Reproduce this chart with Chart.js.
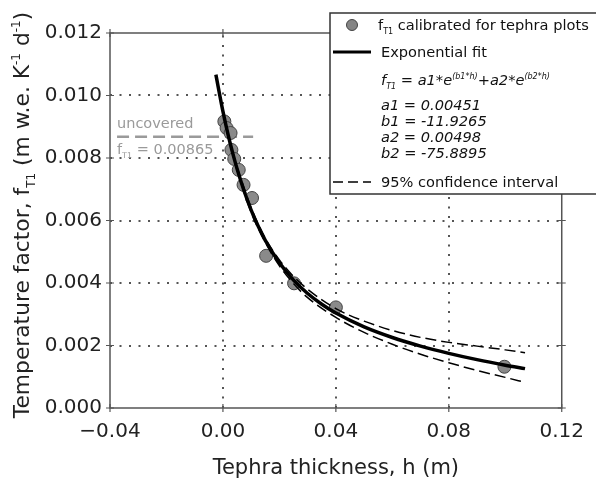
<!DOCTYPE html>
<html><head><meta charset="utf-8">
<script src="https://cdn.jsdelivr.net/npm/chart.js@4"></script>
<style>html,body{margin:0;padding:0;background:#fff}</style>
</head><body>
<canvas id="c" width="596" height="481" style="display:block;width:596px;height:481px"></canvas>
<script>
// Calibrated tephra plots
const plotH = [0.0005, 0.0013, 0.0027, 0.0030, 0.0040, 0.0056, 0.0073, 0.0103, 0.0153, 0.0252, 0.0400, 0.0997];
const plotF = [0.00917, 0.00896, 0.00880, 0.00826, 0.00797, 0.00762, 0.00714, 0.00672, 0.00487, 0.00399, 0.00322, 0.00132];
// Exponential fit
const fitH = [-0.0025, 0, 0.00125, 0.0025, 0.00375, 0.005, 0.0075, 0.01, 0.0125, 0.015, 0.02, 0.025, 0.03, 0.035, 0.04, 0.05, 0.06, 0.07, 0.08, 0.09, 0.1, 0.107];
const fitF = [0.010667, 0.00949, 0.008972, 0.008496, 0.008060, 0.007657, 0.006943, 0.006334, 0.005814, 0.005366, 0.004645, 0.004094, 0.003664, 0.003321, 0.003038, 0.002596, 0.002257, 0.001982, 0.001749, 0.001547, 0.001371, 0.001260];
// 95% confidence interval
const ciH = [0.005, 0.01, 0.015, 0.02, 0.025, 0.03, 0.04, 0.05, 0.06, 0.07, 0.08, 0.09, 0.1, 0.107];
const ciUpper = [0.00770, 0.00641, 0.00543, 0.00474, 0.00421, 0.00380, 0.00318, 0.00278, 0.00248, 0.00226, 0.00210, 0.00198, 0.00186, 0.00177];
const ciLower = [0.00762, 0.00626, 0.00530, 0.00455, 0.00398, 0.00353, 0.00290, 0.00242, 0.00204, 0.00172, 0.00145, 0.00120, 0.00098, 0.00082];
// Uncovered reference
const uncoveredH = [-0.0375, 0.0107];
const uncoveredF = [0.00868, 0.00868];
// Ticks
const xTicks = [-0.04, 0.00, 0.04, 0.08, 0.12];
const yTicks = [0.000, 0.002, 0.004, 0.006, 0.008, 0.010, 0.012];
const legendParams = ['a1 = 0.00451', 'b1 = -11.9265', 'a2 = 0.00498', 'b2 = -75.8895'];

const pts = (xs, ys) => xs.map((x, i) => ({x: x, y: ys[i]}));
const FAM = "'DejaVu Sans', Verdana, sans-serif";

function drawRich(ctx, parts, x, y, size, italic, measureOnly) {
  let cx = x;
  for (const p of parts) {
    let s = size, dy = 0;
    if (p.m === 'sub') { s = size * 0.55; dy = size * 0.28; }
    if (p.m === 'sup') { s = size * 0.55; dy = -size * 0.42; }
    ctx.font = (italic ? 'italic ' : '') + s + 'px ' + FAM;
    if (!measureOnly) ctx.fillText(p.t, cx, y + dy);
    cx += ctx.measureText(p.t).width;
  }
  return cx - x;
}

const dotGrid = {
  id: 'dotGrid',
  beforeDatasetsDraw(chart) {
    const ctx = chart.ctx, a = chart.chartArea;
    const xs = chart.scales.x, ys = chart.scales.y;
    ctx.save();
    ctx.strokeStyle = '#555'; ctx.lineWidth = 2; ctx.setLineDash([2, 7.5]);
    for (const v of xTicks) {
      if (v === xTicks[0] || v === xTicks[xTicks.length - 1]) continue;
      const px = Math.round(xs.getPixelForValue(v));
      ctx.beginPath(); ctx.moveTo(px, a.bottom); ctx.lineTo(px, a.top); ctx.stroke();
    }
    for (const v of yTicks) {
      if (v === yTicks[0] || v === yTicks[yTicks.length - 1]) continue;
      const py = Math.round(ys.getPixelForValue(v));
      ctx.beginPath(); ctx.moveTo(a.left, py); ctx.lineTo(a.right, py); ctx.stroke();
    }
    ctx.restore();
  }
};

const deco = {
  id: 'deco',
  afterDraw(chart) {
    const ctx = chart.ctx, a = chart.chartArea;
    const xs = chart.scales.x, ys = chart.scales.y;
    ctx.save();
    // frame
    ctx.strokeStyle = '#555'; ctx.lineWidth = 1.5; ctx.setLineDash([]);
    ctx.strokeRect(a.left, a.top, a.right - a.left, a.bottom - a.top);
    // in-out ticks
    ctx.lineWidth = 1.2;
    ctx.beginPath();
    for (const v of xTicks) {
      const px = xs.getPixelForValue(v);
      ctx.moveTo(px, a.bottom - 4); ctx.lineTo(px, a.bottom + 4);
      ctx.moveTo(px, a.top - 4); ctx.lineTo(px, a.top + 4);
    }
    for (const v of yTicks) {
      const py = ys.getPixelForValue(v);
      ctx.moveTo(a.left - 4, py); ctx.lineTo(a.left + 4, py);
      ctx.moveTo(a.right - 4, py); ctx.lineTo(a.right + 4, py);
    }
    ctx.stroke();

    ctx.fillStyle = '#222'; ctx.textBaseline = 'alphabetic'; ctx.textAlign = 'left';
    // x title
    ctx.font = '21px ' + FAM;
    ctx.textAlign = 'center';
    ctx.fillText('Tephra thickness, h (m)', (a.left + a.right) / 2, 474);
    ctx.textAlign = 'left';
    // y title
    const yParts = [{t: 'Temperature factor, f'}, {t: 'T1', m: 'sub'}, {t: ' (m w.e. K'}, {t: '-1', m: 'sup'}, {t: ' d'}, {t: '-1', m: 'sup'}, {t: ')'}];
    ctx.save();
    ctx.translate(29, 215); ctx.rotate(-Math.PI / 2);
    const w = drawRich(ctx, yParts, 0, 0, 21.8, false, true);
    drawRich(ctx, yParts, -w / 2, 0, 21.8, false, false);
    ctx.restore();

    // uncovered annotation
    ctx.fillStyle = '#9a9a9a';
    ctx.font = '14.5px ' + FAM;
    ctx.fillText('uncovered', 117, 128);
    drawRich(ctx, [{t: 'f'}, {t: 'T1', m: 'sub'}, {t: ' = 0.00865'}], 117, 154, 14.5, false, false);

    // legend box
    ctx.fillStyle = '#fff';
    ctx.fillRect(330, 13, 270, 181);
    ctx.strokeStyle = '#333'; ctx.lineWidth = 1.5;
    ctx.strokeRect(330, 13, 280, 181);
    // marker
    ctx.beginPath(); ctx.arc(352, 25, 5.5, 0, Math.PI * 2);
    ctx.fillStyle = '#858585'; ctx.fill(); ctx.strokeStyle = '#444'; ctx.lineWidth = 1; ctx.stroke();
    ctx.fillStyle = '#111';
    drawRich(ctx, [{t: 'f'}, {t: 'T1', m: 'sub'}, {t: ' calibrated for tephra plots'}], 378, 30, 14.6, false, false);
    // fit line
    ctx.strokeStyle = '#000'; ctx.lineWidth = 3;
    ctx.beginPath(); ctx.moveTo(333, 52); ctx.lineTo(371, 52); ctx.stroke();
    ctx.font = '14.6px ' + FAM;
    ctx.fillText('Exponential fit', 381, 57);
    drawRich(ctx, [{t: 'f'}, {t: 'T1', m: 'sub'}, {t: ' = a1*e'}, {t: '(b1*h)', m: 'sup'}, {t: '+a2*e'}, {t: '(b2*h)', m: 'sup'}], 381, 85, 14.6, true, false);
    const py = [110, 126, 142, 158];
    legendParams.forEach((s, i) => { ctx.font = 'italic 14.6px ' + FAM; ctx.fillText(s, 381, py[i]); });
    // dashed
    ctx.lineWidth = 1.5; ctx.setLineDash([10, 5]);
    ctx.beginPath(); ctx.moveTo(333, 182); ctx.lineTo(371, 182); ctx.stroke();
    ctx.setLineDash([]);
    ctx.font = '14.6px ' + FAM;
    ctx.fillText('95% confidence interval', 381, 187);
    ctx.restore();
  }
};

new Chart(document.getElementById('c'), {
  type: 'scatter',
  data: {
    datasets: [
      { label: 'Exponential fit', data: pts(fitH, fitF), showLine: true, borderColor: '#000', borderWidth: 3.5, pointRadius: 0, cubicInterpolationMode: 'monotone' },
      { label: 'upper', data: pts(ciH, ciUpper), showLine: true, borderColor: '#000', borderWidth: 1.5, borderDash: [11, 5], pointRadius: 0, cubicInterpolationMode: 'monotone' },
      { label: 'lower', data: pts(ciH, ciLower), showLine: true, borderColor: '#000', borderWidth: 1.5, borderDash: [11, 5], pointRadius: 0, cubicInterpolationMode: 'monotone' },
      { label: 'fT1 calibrated for tephra plots', data: pts(plotH, plotF), pointRadius: 6.5, backgroundColor: '#8a8a8a', borderColor: '#444', borderWidth: 1 },
      { label: 'uncovered', data: pts(uncoveredH, uncoveredF), showLine: true, borderColor: '#9a9a9a', borderWidth: 2.5, borderDash: [12, 6], pointRadius: 0 }
    ]
  },
  options: {
    responsive: false, animation: false, devicePixelRatio: 1,
    layout: { padding: { top: 33, right: 27, left: 0, bottom: 0 } },
    plugins: { legend: { display: false }, tooltip: { enabled: false } },
    scales: {
      x: {
        type: 'linear', min: -0.04, max: 0.12,
        afterBuildTicks: (s) => { s.ticks = xTicks.map(v => ({value: v})); },
        afterFit: (s) => { s.height = 73; },
        ticks: { font: { family: FAM, size: 20 }, color: '#222', padding: 12,
          callback: (v) => v.toFixed(2).replace('-', '\u2212') },
        grid: { display: false, drawTicks: false },
        border: { display: false }
      },
      y: {
        type: 'linear', min: 0, max: 0.012,
        afterBuildTicks: (s) => { s.ticks = yTicks.map(v => ({value: v})); },
        afterFit: (s) => { s.width = 110; },
        ticks: { font: { family: FAM, size: 20 }, color: '#222', padding: 8,
          callback: (v) => v.toFixed(3) },
        grid: { display: false, drawTicks: false },
        border: { display: false }
      }
    }
  },
  plugins: [dotGrid, deco]
});
</script>
</body></html>
